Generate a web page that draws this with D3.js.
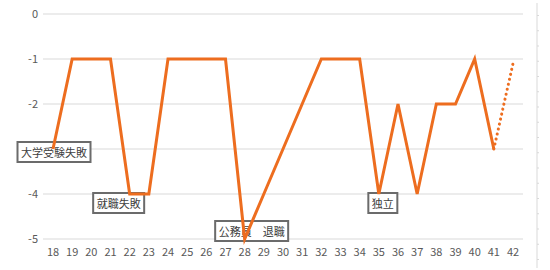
<!DOCTYPE html>
<html>
<head>
<meta charset="utf-8">
<script src="https://cdn.jsdelivr.net/npm/d3@7"></script>
<style>
  body { margin: 0; background: #fff; }
  text { font-family: "Noto Sans CJK JP", "DejaVu Sans", sans-serif; }
</style>
</head>
<body>
<div id="chart"></div>
<script>
// Ages on the x axis and the life score for each age
const ages = [18, 19, 20, 21, 22, 23, 24, 25, 26, 27, 28, 29, 30, 31, 32, 33, 34, 35, 36, 37, 38, 39, 40, 41, 42];
const scores = [-3, -1, -1, -1, -4, -4, -1, -1, -1, -1, -5, -4, -3, -2, -1, -1, -1, -4, -2, -4, -2, -2, -1, -3];
// Forecast (dotted) segment
const forecastAges = [41, 42];
const forecastScores = [-3, -1.1];
const yTicks = [0, -1, -2, -3, -4, -5];
// Event labels
const eventAges = [18, 22, 28, 35];
const eventTexts = ["大学受験失敗", "就職失敗", "公務員　退職", "独立"];

const width = 550, height = 270;
const margin = { top: 14, right: 27, bottom: 31, left: 43 };

const svg = d3.select("#chart").append("svg")
  .attr("width", width)
  .attr("height", height);

const x = d3.scalePoint()
  .domain(ages)
  .range([53, 513]);

const y = d3.scaleLinear()
  .domain([0, -5])
  .range([margin.top, height - margin.bottom]);

// Gridlines
svg.append("g")
  .selectAll("line")
  .data(yTicks)
  .join("line")
    .attr("x1", margin.left)
    .attr("x2", width - margin.right)
    .attr("y1", (d) => y(d))
    .attr("y2", (d) => y(d))
    .attr("stroke", "#d9d9d9")
    .attr("stroke-width", 1);

// Y axis labels
svg.append("g")
  .selectAll("text")
  .data(yTicks)
  .join("text")
    .attr("x", 38)
    .attr("y", (d) => y(d) + 4)
    .attr("text-anchor", "end")
    .attr("font-size", 11)
    .attr("fill", "#595959")
    .text((d) => d === 0 ? "0" : "-" + Math.abs(d));

// X axis labels
svg.append("g")
  .selectAll("text")
  .data(ages)
  .join("text")
    .attr("x", (d) => x(d))
    .attr("y", 256)
    .attr("text-anchor", "middle")
    .attr("font-size", 11)
    .attr("fill", "#595959")
    .text((d) => d);

// Right-side edge line with small ticks
const edge = d3.scaleLinear().domain([0, 16]).range([15, 259]);
const edgeAxis = svg.append("g")
  .attr("transform", "translate(537,0)")
  .call(d3.axisRight(edge).ticks(16).tickSize(2).tickFormat(""));
edgeAxis.select(".domain").attr("stroke", "#d9d9d9").attr("d", "M0,3V268");
edgeAxis.selectAll(".tick line").attr("stroke", "#d9d9d9");

// Event label boxes (drawn under the line)
const labelOffsets = { 18: [1, 3], 22: [-11, 9], 28: [7, -8], 35: [4, 9] };
const labels = svg.append("g")
  .selectAll("g")
  .data(eventAges.map((a, i) => ({ age: a, text: eventTexts[i], value: scores[ages.indexOf(a)] })))
  .join("g")
    .attr("transform", (d) => {
      const o = labelOffsets[d.age];
      return `translate(${x(d.age) + o[0]},${y(d.value) + o[1]})`;
    });

labels.append("text")
  .attr("text-anchor", "middle")
  .attr("dominant-baseline", "central")
  .attr("font-size", 11)
  .attr("fill", "#404040")
  .text((d) => d.text);

labels.each(function () {
  const g = d3.select(this);
  const w = g.select("text").node().getComputedTextLength();
  g.insert("rect", "text")
    .attr("x", -w / 2 - 3.5)
    .attr("y", -10)
    .attr("width", w + 7)
    .attr("height", 20)
    .attr("fill", "#fff")
    .attr("stroke", "#6b6b6b")
    .attr("stroke-width", 2);
});

// Main line
const line = d3.line()
  .x((d, i) => x(ages[i]))
  .y((d) => y(d));

svg.append("path")
  .datum(scores)
  .attr("fill", "none")
  .attr("stroke", "#ED6D1F")
  .attr("stroke-width", 3)
  .attr("stroke-linejoin", "miter")
  .attr("d", line);

// Forecast dotted line
svg.append("path")
  .datum(forecastScores)
  .attr("fill", "none")
  .attr("stroke", "#ED6D1F")
  .attr("stroke-width", 3)
  .attr("stroke-linecap", "round")
  .attr("stroke-dasharray", "0.1 5")
  .attr("d", d3.line().x((d, i) => x(forecastAges[i])).y((d) => y(d)));
</script>
</body>
</html>
